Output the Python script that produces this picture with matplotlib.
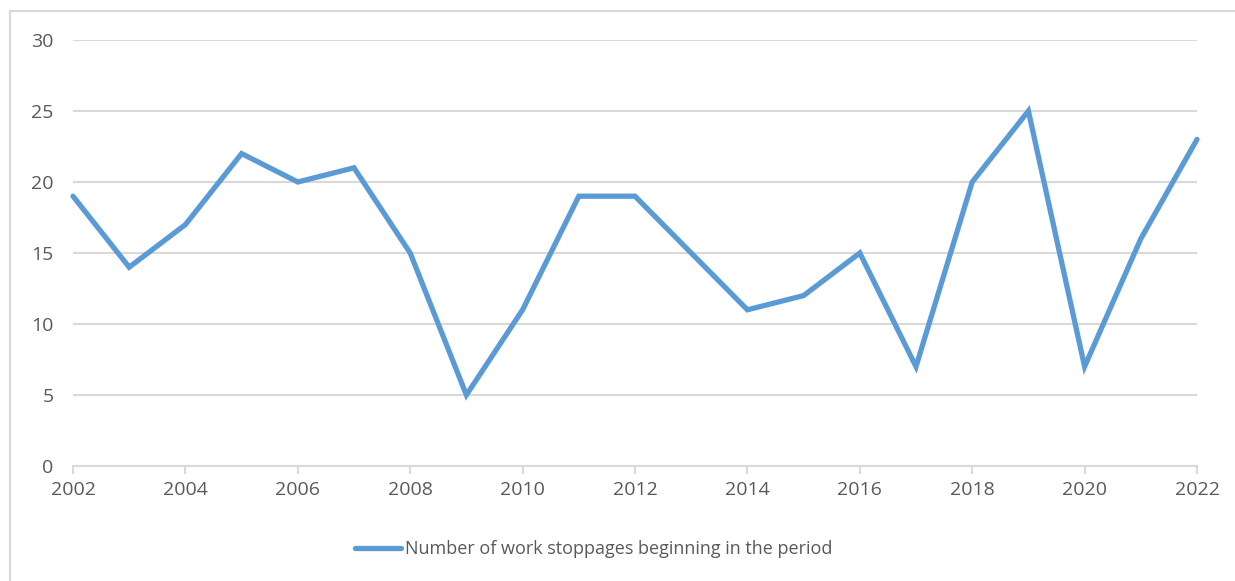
import matplotlib.pyplot as plt
from matplotlib.patches import Rectangle
from matplotlib.lines import Line2D

years = list(range(2002, 2023))
stoppages = [19, 14, 17, 22, 20, 21, 15, 5, 11, 19, 19, 15, 11, 12, 15, 7, 20, 25, 7, 16, 23]
label = "Number of work stoppages beginning in the period"

blue = "#5B9BD5"
grey_text = "#595959"
grid_col = "#D9D9D9"

plt.rcParams["font.family"] = ["Open Sans", "DejaVu Sans"]

fig = plt.figure(figsize=(12.35, 5.81), dpi=100)
ax = fig.add_axes([73 / 1235, 1 - 466 / 581, (1197 - 73) / 1235, (466 - 40) / 581])

ax.plot(years, stoppages, color=blue, linewidth=3.8, solid_joinstyle="miter",
        solid_capstyle="round", clip_on=False, zorder=3)

ax.set_xlim(2002, 2022)
ax.set_ylim(0, 30)
ax.set_yticks(range(0, 31, 5))
ax.set_xticks(range(2002, 2023, 2))
ax.grid(axis="y", color=grid_col, linewidth=1.5)
ax.set_axisbelow(True)

for s in ["top", "right", "left"]:
    ax.spines[s].set_visible(False)
ax.spines["bottom"].set_color(grid_col)
ax.spines["bottom"].set_linewidth(1.5)

ax.tick_params(axis="y", length=0, pad=14, labelsize=14, labelcolor=grey_text)
ax.tick_params(axis="x", length=6, width=1.5, color=grid_col, pad=5,
               labelsize=14, labelcolor=grey_text)

handle = Line2D([], [], color=blue, linewidth=3.8, solid_capstyle="round")
fig.legend([handle], [label], loc="center", bbox_to_anchor=(593.5 / 1235, 1 - 549 / 581),
           frameon=False, fontsize=13, labelcolor=grey_text, handlelength=2.6,
           handletextpad=0.2)

# outer chart border (cropped on right/bottom)
fig.patches.append(Rectangle((10 / 1235, -0.1), 1.2, 1 - 11 / 581 + 0.1,
                             transform=fig.transFigure, fill=False,
                             edgecolor=grid_col, linewidth=1.5, clip_on=False))

fig.savefig("out.png", dpi=100)
